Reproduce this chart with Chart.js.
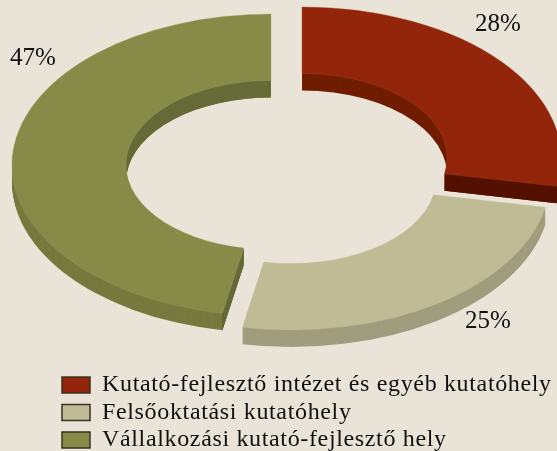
<!DOCTYPE html>
<html>
<head>
<meta charset="utf-8">
<style>
html,body{margin:0;padding:0;background:#e9e4d7;}
canvas{display:block;}
</style>
<script src="https://cdn.jsdelivr.net/npm/chart.js@4"></script>
</head>
<body>
<canvas id="ring" width="557" height="451"></canvas>
<script>
const categories=[
    "Kutató-fejlesztő intézet és egyéb kutatóhely",
    "Felsőoktatási kutatóhely",
    "Vállalkozási kutató-fejlesztő hely"
];
const shares=[28,25,47];

const topColors=["#93260a","#bfbb94","#868c48"];
const edgeColors=["#a5472a","#c4c09c","#9a9e62"];
const wallColors=["#701d02","#a09d7e","#767a3e"];

// darker parts of the side wall: inner curve and cut faces, as page rectangles
const wallZones=[
    [[430,173,127,40,"#541000"]],
    [],
    [[110,70,170,125,"#666b37"],[222,240,30,95,"#666b37"]]
];

// where each exploded slice sits on the page, and where its % label goes
const sliceCentres=[[302,158],[291,179],[271,165]];
const labelSpots=[[498,24],[488,321],[33,58]];
const radiusX=259;
const radiusY=151;
const depth=17;

const ringPlugin={
    id:"ring3d",
    beforeDraw(chart){
        // legend block starts under the ring, left edge of boxes at 62
        chart.legend.left=58.5;
        chart.legend.right=557;
        chart.legend.top=369.5;
        chart.ctx.letterSpacing="0.65px";
    },
    beforeDatasetDraw(chart){
        const ctx=chart.ctx;
        ctx.letterSpacing="0px";
        const arcs=chart.getDatasetMeta(0).data;
        arcs.forEach((arc,i)=>{
            const sx=radiusX/arc.outerRadius;
            const sy=radiusY/arc.outerRadius;
            const topOptions=arc.options;
            const paint=(color,down,line)=>{
                ctx.save();
                ctx.translate(sliceCentres[i][0],sliceCentres[i][1]+down);
                ctx.scale(sx,sy);
                ctx.translate(-arc.x,-arc.y);
                arc.options={
                    ...topOptions,
                    backgroundColor:color,
                    borderColor:line||color,
                    borderWidth:line?0.3:0
                };
                arc.draw(ctx);
                ctx.restore();
            };
            for(let d=depth;d>0;d--)
                paint(wallColors[i],d);
            wallZones[i].forEach(z=>{
                ctx.save();
                ctx.beginPath();
                ctx.rect(z[0],z[1],z[2],z[3]);
                ctx.clip();
                for(let d=depth;d>0;d--)
                    paint(z[4],d);
                ctx.restore();
            });
            paint(topColors[i],0,edgeColors[i]);
            arc.options=topOptions;
        });
        return false;
    },
    afterDatasetsDraw(chart){
        const ctx=chart.ctx;
        ctx.save();
        ctx.font="25px 'Liberation Serif'";
        ctx.fillStyle="#111";
        ctx.textAlign="center";
        ctx.textBaseline="middle";
        shares.forEach((s,i)=>{
            ctx.fillText(s+"%",labelSpots[i][0],labelSpots[i][1]);
        });
        ctx.restore();
    }
};

new Chart(document.getElementById("ring"),{
    type:"doughnut",
    data:{
        labels:categories,
        datasets:[{
            data:shares,
            backgroundColor:topColors,
            borderWidth:0
        }]
    },
    options:{
        responsive:false,
        animation:false,
        cutout:"56%",
        plugins:{
            tooltip:{enabled:false},
            legend:{
                position:"bottom",
                align:"start",
                labels:{
                    boxWidth:28,
                    boxHeight:16,
                    padding:3.5,
                    color:"#111",
                    font:{family:"'Liberation Serif'",size:24},
                    generateLabels(chart){
                        return Chart.overrides.doughnut.plugins.legend.labels.generateLabels(chart).map(item=>({
                            ...item,
                            strokeStyle:"#3a3020",
                            lineWidth:1.5
                        }));
                    }
                }
            }
        }
    },
    plugins:[ringPlugin]
});
</script>
</body>
</html>
